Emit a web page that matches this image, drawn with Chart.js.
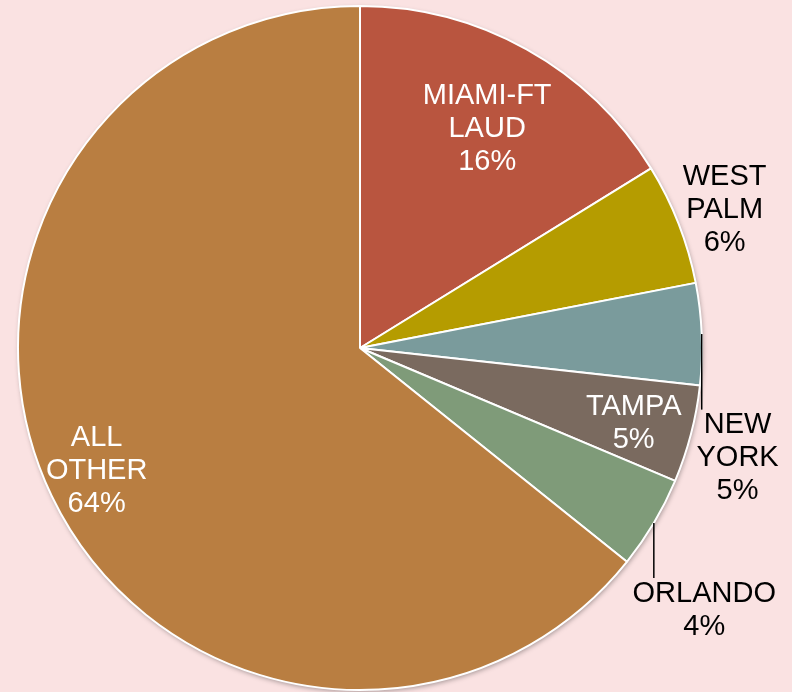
<!DOCTYPE html>
<html>
<head>
<meta charset="utf-8">
<script src="https://cdn.jsdelivr.net/npm/chart.js@4"></script>
<style>
    html, body { margin: 0; padding: 0; background: #fae2e2; }
    #wrap { width: 792px; height: 692px; }
</style>
</head>
<body>
<div id="wrap"><canvas id="pieChart" width="792" height="692"></canvas></div>
<script>
// Данные
const markets = ['MIAMI-FT LAUD', 'WEST PALM', 'NEW YORK', 'TAMPA', 'ORLANDO', 'ALL OTHER'];
const shares = [16.2, 5.75, 4.8, 4.6, 4.4, 64.25];
const sliceColors = ['#b9553f', '#b59c00', '#7a9b9c', '#7a6a5f', '#7f9b79', '#b97e41'];

// Подписи: r — доля радиуса, da — сдвиг угла (градусы), leader — выносная линия
const labelCfg = [
    { r: 0.74, da: 1, color: '#ffffff' },
    { r: 1.14, da: 0.6, color: '#000000' },
    { r: 1.15, da: 18.6, color: '#000000', leader: true },
    { r: 0.83, da: 0.8, color: '#ffffff' },
    { r: 1.265, da: 6.5, color: '#000000', leader: true },
    { r: 0.85, da: 0.6, color: '#ffffff' }
];

const FONT_SIZE = 29;
const LINE_H = 33;

function splitName(name) {
    if (name === 'MIAMI-FT LAUD') return ['MIAMI-FT', 'LAUD'];
    if (name === 'ORLANDO') return ['ORLANDO'];
    return name.split(' ');
}

const shadowPlugin = {
    id: 'pieShadow',
    beforeDatasetsDraw(chart) {
        const arc = chart.getDatasetMeta(0).data[0];
        if (!arc) return;
        const ctx = chart.ctx;
        ctx.save();
        ctx.shadowColor = 'rgba(0,0,0,0.35)';
        ctx.shadowBlur = 5;
        ctx.shadowOffsetX = 1;
        ctx.shadowOffsetY = 2;
        ctx.fillStyle = '#ffffff';
        ctx.beginPath();
        ctx.arc(arc.x, arc.y, arc.outerRadius, 0, Math.PI * 2);
        ctx.fill();
        ctx.restore();
    }
};

const labelPlugin = {
    id: 'sliceLabels',
    afterDatasetsDraw(chart) {
        const ctx = chart.ctx;
        const meta = chart.getDatasetMeta(0);
        const total = shares.reduce((a, b) => a + b, 0);
        ctx.save();
        ctx.font = FONT_SIZE + 'px "Liberation Sans", Arial, sans-serif';
        ctx.textAlign = 'center';
        ctx.textBaseline = 'middle';
        meta.data.forEach((arc, i) => {
            const cfg = labelCfg[i];
            const mid = (arc.startAngle + arc.endAngle) / 2;
            const ang = mid + cfg.da * Math.PI / 180;
            const R = arc.outerRadius;
            const cx = arc.x + Math.cos(ang) * R * cfg.r;
            const cy = arc.y + Math.sin(ang) * R * cfg.r;
            const lines = splitName(markets[i]).concat([Math.round(shares[i] / total * 100) + '%']);
            const top = cy - (lines.length - 1) * LINE_H / 2;
            if (cfg.leader) {
                const lx = arc.x + Math.cos(mid) * R;
                const ly = arc.y + Math.sin(mid) * R;
                ctx.strokeStyle = '#000000';
                ctx.lineWidth = 1.5;
                ctx.beginPath();
                ctx.moveTo(lx, ly);
                ctx.lineTo(lx, top - FONT_SIZE / 2 - 1);
                ctx.stroke();
            }
            ctx.fillStyle = cfg.color;
            lines.forEach((t, k) => ctx.fillText(t, cx, top + k * LINE_H));
        });
        ctx.restore();
    }
};

const ctx = document.getElementById('pieChart').getContext('2d');
new Chart(ctx, {
    type: 'pie',
    data: {
        labels: markets,
        datasets: [{
            data: shares,
            backgroundColor: sliceColors,
            borderColor: '#ffffff',
            borderWidth: 2
        }]
    },
    options: {
        responsive: false,
        animation: false,
        layout: { padding: { top: 5, bottom: 1, left: 17, right: 89 } },
        plugins: {
            legend: { display: false },
            tooltip: { enabled: false }
        }
    },
    plugins: [shadowPlugin, labelPlugin]
});
</script>
</body>
</html>
